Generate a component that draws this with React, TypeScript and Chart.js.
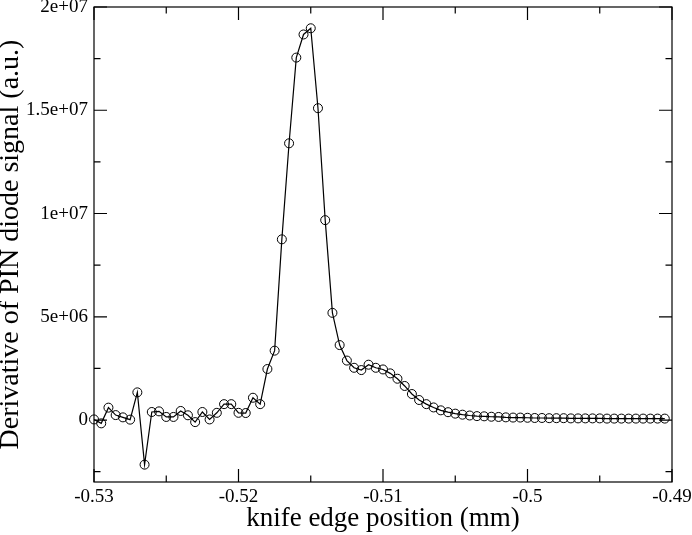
import React, { useEffect, useRef } from 'react';
import Chart from 'chart.js/auto';

// knife edge position (mm)
const positions = [
    -0.53, -0.5295, -0.529, -0.5285, -0.528, -0.5275, -0.527, -0.5265, -0.526, -0.5255,
    -0.525, -0.5245, -0.524, -0.5235, -0.523, -0.5225, -0.522, -0.5215, -0.521, -0.5205,
    -0.52, -0.5195, -0.519, -0.5185, -0.518, -0.5175, -0.517, -0.5165, -0.516, -0.5155,
    -0.515, -0.5145, -0.514, -0.5135, -0.513, -0.5125, -0.512, -0.5115, -0.511, -0.5105,
    -0.51, -0.5095, -0.509, -0.5085, -0.508, -0.5075, -0.507, -0.5065, -0.506, -0.5055,
    -0.505, -0.5045, -0.504, -0.5035, -0.503, -0.5025, -0.502, -0.5015, -0.501, -0.5005,
    -0.5, -0.4995, -0.499, -0.4985, -0.498, -0.4975, -0.497, -0.4965, -0.496, -0.4955,
    -0.495, -0.4945, -0.494, -0.4935, -0.493, -0.4925, -0.492, -0.4915, -0.491, -0.4905
];

// derivative of PIN diode signal (a.u.)
const derivative = [
    0.03e6, -0.16e6, 0.6e6, 0.24e6, 0.13e6, 0.02e6, 1.34e6, -2.16e6, 0.39e6, 0.42e6,
    0.15e6, 0.15e6, 0.44e6, 0.23e6, -0.1e6, 0.39e6, 0.03e6, 0.35e6, 0.77e6, 0.77e6,
    0.35e6, 0.34e6, 1.08e6, 0.77e6, 2.47e6, 3.36e6, 8.75e6, 13.4e6, 17.55e6, 18.67e6,
    18.97e6, 15.1e6, 9.68e6, 5.19e6, 3.63e6, 2.88e6, 2.53e6, 2.42e6, 2.68e6, 2.53e6,
    2.45e6, 2.26e6, 2.0e6, 1.65e6, 1.26e6, 0.97e6, 0.77e6, 0.61e6, 0.47e6, 0.38e6,
    0.31e6, 0.26e6, 0.22e6, 0.19e6, 0.18e6, 0.16e6, 0.15e6, 0.13e6, 0.12e6, 0.12e6,
    0.11e6, 0.1e6, 0.1e6, 0.09e6, 0.09e6, 0.09e6, 0.08e6, 0.08e6, 0.08e6, 0.08e6,
    0.08e6, 0.07e6, 0.07e6, 0.07e6, 0.07e6, 0.07e6, 0.07e6, 0.07e6, 0.07e6, 0.07e6
];

// tick values and labels (empty label = minor tick)
const xTickValues = [-0.53, -0.525, -0.52, -0.515, -0.51, -0.505, -0.5, -0.495, -0.49];
const xTickLabels = ['-0.53', '', '-0.52', '', '-0.51', '', '-0.5', '', '-0.49'];
const yTickValues = [-2.5e6, 0, 2.5e6, 5e6, 7.5e6, 1e7, 1.25e7, 1.5e7, 1.75e7, 2e7];
const yTickLabels = ['', '0', '', '5e+06', '', '1e+07', '', '1.5e+07', '', '2e+07'];

const FONT = '"Liberation Serif", "DejaVu Serif", serif';

const frameTicks = {
    id: 'frameTicks',
    afterDatasetsDraw(chart: any) {
        const { ctx, chartArea: a, scales } = chart;
        ctx.save();
        ctx.strokeStyle = '#000';
        ctx.lineWidth = 1.2;
        ctx.strokeRect(a.left, a.top, a.right - a.left, a.bottom - a.top);
        ctx.beginPath();
        xTickValues.forEach((v, i) => {
            const px = scales.x.getPixelForValue(v);
            const len = xTickLabels[i] ? 13 : 6.5;
            ctx.moveTo(px, a.bottom);
            ctx.lineTo(px, a.bottom - len);
            ctx.moveTo(px, a.top);
            ctx.lineTo(px, a.top + len);
        });
        yTickValues.forEach((v, i) => {
            const py = scales.y.getPixelForValue(v);
            const len = yTickLabels[i] ? 13 : 6.5;
            ctx.moveTo(a.left, py);
            ctx.lineTo(a.left + len, py);
            ctx.moveTo(a.right, py);
            ctx.lineTo(a.right - len, py);
        });
        ctx.stroke();
        ctx.restore();
    }
};

const App: React.FC = () => {
    const canvasRef = useRef<HTMLCanvasElement>(null);
    const chartRef = useRef<Chart>();

    useEffect(() => {
        document.body.style.margin = '0';
        if (!canvasRef.current) return;
        const ctx = canvasRef.current.getContext('2d');
        if (!ctx) return;
        if (chartRef.current) chartRef.current.destroy();

        Chart.defaults.color = '#000';

        chartRef.current = new Chart(ctx, {
            type: 'scatter',
            data: {
                datasets: [{
                    data: positions.map((x, i) => ({ x, y: derivative[i] })),
                    showLine: true,
                    borderColor: '#000',
                    borderWidth: 1.2,
                    pointRadius: 4.5,
                    pointBorderWidth: 1,
                    pointBorderColor: '#000',
                    pointBackgroundColor: 'rgba(0,0,0,0)',
                    clip: false
                }]
            },
            options: {
                animation: false,
                responsive: false,
                layout: { padding: { top: 7, right: 20, left: 0, bottom: 0 } },
                plugins: { legend: { display: false }, tooltip: { enabled: false } },
                scales: {
                    x: {
                        type: 'linear',
                        min: -0.53,
                        max: -0.49,
                        grid: { display: false, drawTicks: false },
                        border: { display: false },
                        afterBuildTicks: (s: any) => { s.ticks = xTickValues.map(value => ({ value })); },
                        afterFit: (s: any) => { s.height = 53; s.paddingLeft = 0; s.paddingRight = 0; },
                        ticks: {
                            padding: 4,
                            maxRotation: 0,
                            autoSkip: false,
                            font: { family: FONT, size: 19 },
                            callback: (_v: any, i: number) => xTickLabels[i]
                        },
                        title: {
                            display: true,
                            text: 'knife edge position (mm)',
                            font: { family: FONT, size: 27 },
                            padding: { top: 0, bottom: 0 }
                        }
                    },
                    y: {
                        type: 'linear',
                        min: -3e6,
                        max: 2e7,
                        grid: { display: false, drawTicks: false },
                        border: { display: false },
                        afterBuildTicks: (s: any) => { s.ticks = yTickValues.map(value => ({ value })); },
                        afterFit: (s: any) => { s.width = 94; s.paddingTop = 0; s.paddingBottom = 0; },
                        ticks: {
                            padding: 6,
                            autoSkip: false,
                            font: { family: FONT, size: 19 },
                            callback: (_v: any, i: number) => yTickLabels[i]
                        },
                        title: {
                            display: true,
                            text: 'Derivative of PIN diode signal (a.u.)',
                            font: { family: FONT, size: 28, lineHeight: 0.74 },
                            padding: { top: 0, bottom: 0 }
                        }
                    }
                }
            },
            plugins: [frameTicks]
        });

        return () => {
            if (chartRef.current) chartRef.current.destroy();
        };
    }, []);

    return (
        <div style={{ width: 692, height: 535 }}>
            <canvas ref={canvasRef} width={692} height={535} style={{ display: 'block' }}></canvas>
        </div>
    );
};

export default App;
